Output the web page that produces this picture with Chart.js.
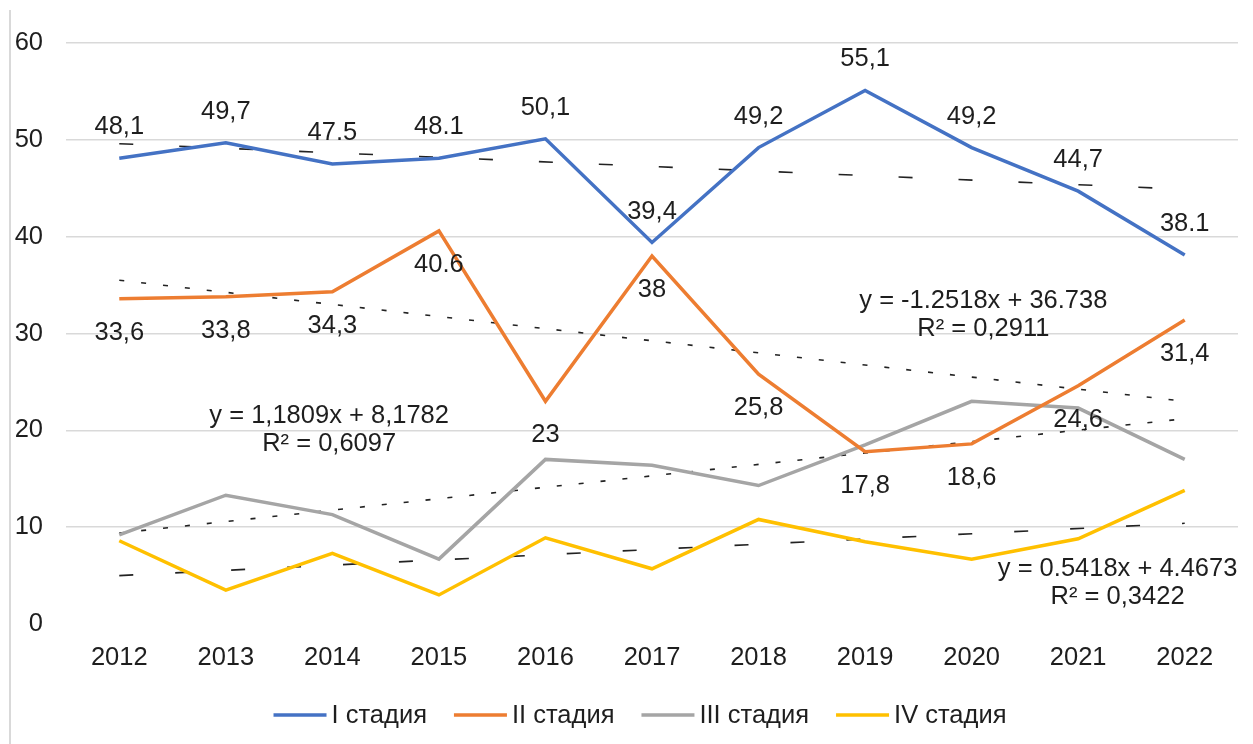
<!DOCTYPE html>
<html>
<head>
<meta charset="utf-8">
<script src="https://cdn.jsdelivr.net/npm/chart.js@4.4.1/dist/chart.umd.min.js"></script>
<style>
  html, body { margin: 0; padding: 0; background: #fff; }
  #wrap { position: relative; width: 1253px; height: 744px; }
  #edge { position: absolute; left: 9px; top: 10px; width: 2px; height: 734px; background: #d9d9d9; }
</style>
</head>
<body>
<div id="wrap">
  <div id="edge"></div>
  <canvas id="stageChart" width="1253" height="744"></canvas>
</div>
<script>
const years = ['2012', '2013', '2014', '2015', '2016', '2017', '2018', '2019', '2020', '2021', '2022'];
const seriesNames = ['I стадия', 'II стадия', 'III стадия', 'IV стадия'];

const stage1 = [48.1, 49.7, 47.5, 48.1, 50.1, 39.4, 49.2, 55.1, 49.2, 44.7, 38.1];
const stage2 = [33.6, 33.8, 34.3, 40.6, 23, 38, 25.8, 17.8, 18.6, 24.6, 31.4];
const stage3 = [9.2, 13.3, 11.3, 6.7, 17.0, 16.4, 14.3, 18.5, 23.0, 22.3, 17.0];
const stage4 = [8.6, 3.5, 7.3, 3.0, 8.9, 5.7, 10.8, 8.5, 6.7, 8.8, 13.8];

const stage1Labels = ['48,1', '49,7', '47.5', '48.1', '50,1', '39,4', '49,2', '55,1', '49,2', '44,7', '38.1'];
const stage2Labels = ['33,6', '33,8', '34,3', '40.6', '23', '38', '25,8', '17,8', '18,6', '24,6', '31,4'];

// trend lines: value at 2012 and at 2022
const trend1 = [49.6, 44.9];
const trend2 = [35.5, 23.0];
const trend3 = [9.4, 21.2];
const trend4 = [5.0, 10.4];

const eqStage2 = ['y = -1.2518x + 36.738', 'R² = 0,2911'];
const eqStage3 = ['y = 1,1809x + 8,1782', 'R² = 0,6097'];
const eqStage4 = ['y = 0.5418x + 4.4673', 'R² = 0,3422'];

const colors = ['#4472C4', '#ED7D31', '#A5A5A5', '#FFC000'];
const FONT = '"Liberation Sans", Arial, sans-serif';
const SIZE = 25.5;
const TEXT = '#1e1e1e';

function trendData(ends) {
    const d = years.map(() => null);
    d[0] = ends[0];
    d[d.length - 1] = ends[1];
    return d;
}

const mainSets = [stage1, stage2, stage3, stage4].map((data, i) => ({
    label: seriesNames[i],
    data: data,
    borderColor: colors[i],
    backgroundColor: colors[i],
    borderWidth: 3.5,
    pointRadius: 0,
    tension: 0,
    order: 1
}));

const trendSets = [
    [trend1, [14, 46]],
    [trend2, [5, 17]],
    [trend3, [5, 17]],
    [trend4, [14, 42]]
].map(([ends, dash]) => ({
    label: 'trend',
    data: trendData(ends),
    borderColor: '#222',
    borderWidth: 1.6,
    borderDash: dash,
    pointRadius: 0,
    spanGaps: true,
    tension: 0,
    order: 2
}));

const labelPlugin = {
    id: 'valueLabels',
    afterDatasetsDraw(chart) {
        const ctx = chart.ctx;
        const xs = chart.scales.x, ys = chart.scales.y;
        ctx.save();
        ctx.font = SIZE + 'px ' + FONT;
        ctx.fillStyle = TEXT;
        ctx.textAlign = 'center';
        ctx.textBaseline = 'middle';
        [[0, stage1Labels, -31], [1, stage2Labels, 34]].forEach(([i, texts, dy]) => {
            chart.getDatasetMeta(i).data.forEach((pt, k) => ctx.fillText(texts[k], pt.x, pt.y + dy));
        });
        // trend equations (x as category index, y as value)
        [[eqStage2, 8.11, 33.4], [eqStage3, 1.97, 21.45], [eqStage4, 9.37, 5.7]].forEach(([lines, xi, yv]) => {
            const px = xs.getPixelForValue(xi);
            const py = ys.getPixelForValue(yv);
            lines.forEach((t, k) => ctx.fillText(t, px, py + k * 28));
        });
        ctx.restore();
    }
};

// legend drawn by hand so it sits where the original one does
const legendPlugin = {
    id: 'bottomLegend',
    afterDraw(chart) {
        const ctx = chart.ctx;
        ctx.save();
        ctx.font = SIZE + 'px ' + FONT;
        ctx.textBaseline = 'middle';
        ctx.textAlign = 'left';
        const lineW = 53, gapText = 5, gapItem = 27, y = 715;
        const widths = seriesNames.map(n => lineW + gapText + ctx.measureText(n).width);
        const total = widths.reduce((a, b) => a + b, 0) + gapItem * (widths.length - 1);
        let x = 640 - total / 2;
        seriesNames.forEach((n, i) => {
            ctx.strokeStyle = colors[i];
            ctx.lineWidth = 3.5;
            ctx.beginPath();
            ctx.moveTo(x, y);
            ctx.lineTo(x + lineW, y);
            ctx.stroke();
            ctx.fillStyle = TEXT;
            ctx.fillText(n, x + lineW + gapText, y + 1);
            x += widths[i] + gapItem;
        });
        ctx.restore();
    }
};

const ctx = document.getElementById('stageChart').getContext('2d');
const stageChart = new Chart(ctx, {
    type: 'line',
    data: {
        labels: years,
        datasets: mainSets.concat(trendSets)
    },
    options: {
        responsive: false,
        animation: false,
        devicePixelRatio: 1,
        layout: { padding: { top: 43, right: 15, left: 0, bottom: 60 } },
        plugins: {
            tooltip: { enabled: false },
            legend: { display: false }
        },
        scales: {
            x: {
                offset: true,
                grid: { display: false },
                border: { display: false },
                ticks: { color: TEXT, padding: 11, font: { family: FONT, size: SIZE } },
                afterFit: scale => { scale.height = 60; }
            },
            y: {
                min: 0,
                max: 60,
                border: { display: false },
                grid: {
                    color: c => c.tick.value === 0 ? 'rgba(0,0,0,0)' : '#d9d9d9',
                    lineWidth: 1.5,
                    drawTicks: false
                },
                ticks: { stepSize: 10, color: TEXT, padding: 23, font: { family: FONT, size: SIZE } },
                afterFit: scale => { scale.width = 66; }
            }
        }
    },
    plugins: [labelPlugin, legendPlugin]
});
</script>
</body>
</html>
